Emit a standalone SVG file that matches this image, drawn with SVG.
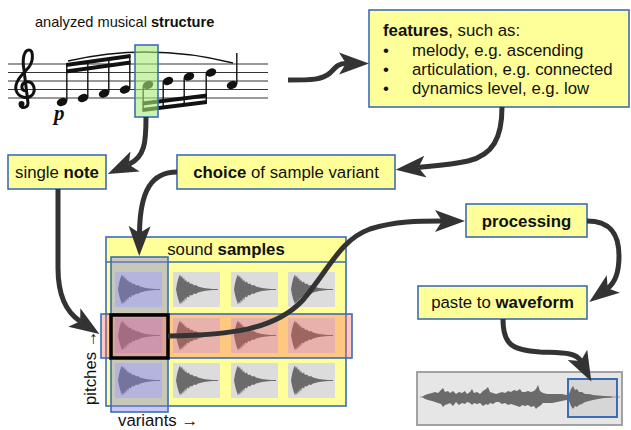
<svg xmlns="http://www.w3.org/2000/svg" width="631" height="430" viewBox="0 0 631 430">
<style>
text{font-family:"Liberation Sans",Arial,sans-serif;font-size:16.8px;fill:#111}
.b{font-weight:bold}
.box{fill:#ffff99;stroke:#3d6db3;stroke-width:1.6}
.cell{fill:#dcdcdc}
.wf{fill:#6b6b6b}
.staff{stroke:#333;stroke-width:1}
.stem{stroke:#111;stroke-width:1.4}
.head{fill:#111}
.beam{fill:#111}
.con{fill:none;stroke:#333;stroke-width:5;marker-end:url(#ah)}
</style>
<defs>
<marker id="ah" markerUnits="userSpaceOnUse" markerWidth="32" markerHeight="24" viewBox="0 0 32 24" refX="7" refY="12" orient="auto">
<path d="M0,1 L30,12 L0,23 L7,12 z" fill="#333"/>
</marker>
<path id="smp" class="wf" d="M3,0 L4,-6 L5,-10 L6,-13 L7,-15 L8,-12 L9,-14 L10,-10 L11,-12 L12,-8 L13,-10 L14,-7 L16,-8 L17,-5.5 L19,-6 L21,-4 L23,-4.5 L25,-3 L28,-2.2 L31,-1.5 L35,-1 L40,-0.6 L45,-0.5 L45,0.5 L40,0.6 L35,1 L31,1.5 L28,2.2 L25,3 L23,4.5 L21,4 L19,6 L17,5.5 L16,8 L14,7 L13,11 L12,8 L11,13 L10,10 L9,14.5 L8,12 L7,15 L6,12 L5,9 L4,5 Z"/>
</defs>

<g id="score">
<text x="35" y="27" style="font-size:14.6px">analyzed musical <tspan class="b">structure</tspan></text>
<g class="staff">
<line x1="8" y1="64" x2="268" y2="64"/>
<line x1="8" y1="72.5" x2="268" y2="72.5"/>
<line x1="8" y1="81" x2="268" y2="81"/>
<line x1="8" y1="89.5" x2="268" y2="89.5"/>
<line x1="8" y1="98" x2="268" y2="98"/>
</g>
<path d="M26,91 C21,91 20,84 26,82 C33,80 36,89 33,94 C29,100 18,98 16,90 C14,81 24,73 29,67 C34,60 33,50 29,50 C24,50 22,59 24,70 L28,103 C28,108 22,109 20,105" fill="none" stroke="#111" stroke-width="3"/>
<circle cx="21.5" cy="104" r="3" fill="#111"/>
<path d="M68,61 Q150,42 233,63" fill="none" stroke="#111" stroke-width="1.4"/>
<g class="head">
<ellipse cx="62" cy="102" rx="5.4" ry="3.9" transform="rotate(-22 62 102)"/>
<ellipse cx="83" cy="98" rx="5.4" ry="3.9" transform="rotate(-22 83 98)"/>
<ellipse cx="104" cy="93.5" rx="5.4" ry="3.9" transform="rotate(-22 104 93.5)"/>
<ellipse cx="125" cy="89.5" rx="5.4" ry="3.9" transform="rotate(-22 125 89.5)"/>
<ellipse cx="148" cy="85" rx="5.4" ry="3.9" transform="rotate(-22 148 85)"/>
<ellipse cx="168" cy="81" rx="5.4" ry="3.9" transform="rotate(-22 168 81)"/>
<ellipse cx="189" cy="76.5" rx="5.4" ry="3.9" transform="rotate(-22 189 76.5)"/>
<ellipse cx="211" cy="72.5" rx="5.4" ry="3.9" transform="rotate(-22 211 72.5)"/>
<ellipse cx="232" cy="85" rx="5.4" ry="3.9" transform="rotate(-22 232 85)"/>
</g>
<g class="stem">
<line x1="66.8" y1="101" x2="66.8" y2="64"/>
<line x1="87.8" y1="97" x2="87.8" y2="61"/>
<line x1="108.8" y1="92.5" x2="108.8" y2="58"/>
<line x1="129.8" y1="88.5" x2="129.8" y2="55"/>
<line x1="143.2" y1="86" x2="143.2" y2="111"/>
<line x1="163.2" y1="82" x2="163.2" y2="108.5"/>
<line x1="184.2" y1="77.5" x2="184.2" y2="106"/>
<line x1="206.2" y1="73.5" x2="206.2" y2="103"/>
<line x1="236.8" y1="84" x2="236.8" y2="53"/>
</g>
<g class="beam">
<polygon points="66,63 130.5,54 130.5,58 66,67"/>
<polygon points="66,69.5 130.5,60.5 130.5,64.5 66,73.5"/>
<polygon points="142.5,112 207,104 207,100 142.5,108"/>
<polygon points="142.5,105.5 207,97.5 207,93.5 142.5,101.5"/>
</g>
<text x="54" y="120" style="font-family:'Liberation Serif','Times New Roman',serif;font-weight:bold;font-style:italic;font-size:21px">p</text>
<rect x="135" y="45" width="23" height="72" fill="rgb(170,235,120)" fill-opacity="0.6" stroke="#3d6db3" stroke-width="1.6"/>
</g>

<g id="features">
<rect class="box" x="369" y="10" width="260" height="97"/>
<text x="383" y="36"><tspan class="b">features</tspan>, such as:</text>
<text x="383" y="56">•</text><text x="412" y="56">melody, e.g. ascending</text>
<text x="383" y="75">•</text><text x="412" y="75">articulation, e.g. connected</text>
<text x="383" y="94">•</text><text x="412" y="94">dynamics level, e.g. low</text>
</g>

<g id="single-note">
<rect class="box" x="8" y="155" width="98" height="34"/>
<text x="57" y="178" text-anchor="middle">single <tspan class="b">note</tspan></text>
</g>

<g id="choice">
<rect class="box" x="177" y="155" width="218" height="34"/>
<text x="286" y="178" text-anchor="middle"><tspan class="b">choice</tspan> of sample variant</text>
</g>

<g id="processing">
<rect class="box" x="466" y="204" width="121" height="33"/>
<text x="526.5" y="227" text-anchor="middle" class="b">processing</text>
</g>

<g id="paste">
<rect class="box" x="418" y="286" width="169" height="33"/>
<text x="502.5" y="308" text-anchor="middle">paste to <tspan class="b">waveform</tspan></text>
</g>

<g id="sound-samples">
<rect class="box" x="106" y="237" width="240" height="169"/>
<line x1="106" y1="262" x2="346" y2="262" stroke="#3d6db3" stroke-width="1.6"/>
<text x="226" y="255" text-anchor="middle">sound <tspan class="b">samples</tspan></text>
<g>
<rect class="cell" x="115" y="272" width="47" height="35"/><rect class="cell" x="173" y="272" width="47" height="35"/><rect class="cell" x="231" y="272" width="47" height="35"/><rect class="cell" x="288" y="272" width="47" height="35"/>
<rect class="cell" x="115" y="318" width="47" height="35"/><rect class="cell" x="173" y="318" width="47" height="35"/><rect class="cell" x="231" y="318" width="47" height="35"/><rect class="cell" x="288" y="318" width="47" height="35"/>
<rect class="cell" x="115" y="363" width="47" height="35"/><rect class="cell" x="173" y="363" width="47" height="35"/><rect class="cell" x="231" y="363" width="47" height="35"/><rect class="cell" x="288" y="363" width="47" height="35"/>
<use href="#smp" x="115" y="289.5"/><use href="#smp" x="173" y="289.5"/><use href="#smp" x="231" y="289.5"/><use href="#smp" x="288" y="289.5"/>
<use href="#smp" x="115" y="335.5"/><use href="#smp" x="173" y="335.5"/><use href="#smp" x="231" y="335.5"/><use href="#smp" x="288" y="335.5"/>
<use href="#smp" x="115" y="380.5"/><use href="#smp" x="173" y="380.5"/><use href="#smp" x="231" y="380.5"/><use href="#smp" x="288" y="380.5"/>
</g>
<rect x="111" y="257" width="57" height="155" fill="rgb(128,128,225)" fill-opacity="0.43" stroke="#3d6db3" stroke-width="1.6"/>
<rect x="101" y="314" width="251" height="44" fill="rgb(255,94,80)" fill-opacity="0.34" stroke="#3d6db3" stroke-width="1.6"/>
<rect x="111" y="315" width="57" height="43" fill="none" stroke="#000" stroke-width="3.5"/>
<text transform="translate(96 405) rotate(-90)" x="0" y="0">pitches →</text>
<text x="118" y="426">variants →</text>
</g>

<g id="waveform">
<rect x="417" y="372" width="205" height="53" fill="#e6e6e6" stroke="#9a9a9a" stroke-width="1.8"/>
<rect x="568" y="379" width="49" height="38" fill="#d6d6d6"/>
<line x1="420" y1="397" x2="620" y2="397" stroke="#999" stroke-width="1"/>
<path class="wf" d="M422,397 L425,395 L428,394 L432,393 L435,392 L438,393 L441,390 L443,388 L445,392 L448,391 L450,393 L453,391 L456,394 L459,392 L462,393 L465,391 L467,394 L470,392 L472,389 L474,393 L477,392 L480,394 L483,391 L486,389 L488,387 L490,392 L493,393 L496,394 L499,393 L502,392 L505,393 L508,391 L511,392 L514,390 L517,391 L520,389 L522,392 L525,392 L528,391 L531,392 L534,391 L536,389 L538,385 L540,391 L543,393 L547,394 L552,394 L557,394 L562,394 L566,395 L569,394 L571,389 L573,386 L575,390 L577,389 L579,392 L582,392 L585,394 L589,394 L593,395 L598,395.5 L604,396 L612,396.5 L612,397.5 L604,398 L598,399 L593,400 L589,401 L585,402 L582,404 L579,405 L577,407 L575,406 L573,409 L571,406 L569,401 L566,400 L562,401 L557,402 L552,403 L547,403 L543,403 L540,406 L538,407 L536,409 L534,406 L531,407 L528,405 L525,406 L522,405 L520,407 L517,406 L514,405 L511,404 L508,405 L505,403 L502,404 L499,402 L496,402 L493,404 L490,403 L488,405 L486,404 L483,406 L480,403 L477,404 L474,403 L472,405 L470,403 L467,402 L465,404 L462,403 L459,405 L456,402 L453,406 L450,403 L448,404 L445,405 L443,407 L441,404 L438,403 L435,402 L432,401 L428,400 L425,399 Z"/>
<rect x="568" y="379" width="49" height="38" fill="none" stroke="#3d6db3" stroke-width="2"/>
</g>

<g id="connectors">
<path class="con" d="M288,80 C312,80 322,80 330,73 C336,67 338,63.6 346,63.6"/>
<path class="con" d="M146,117 C146,142 145,157 128.7,164.5"/>
<path class="con" d="M502,107 C502,138 493,155 468,161 C450,165 432,166 418.5,167.4"/>
<path class="con" d="M177,172 C152,172 140,190 139.5,233"/>
<path class="con" d="M58,189 L58,268 C58,295 66,312 80.2,321.3"/>
<path class="con" d="M168,336 C230,335 275,330 303,300 C330,268 340,240 370,229 C395,221 420,221 442,221"/>
<path class="con" d="M587,221 C612,221 619,236 619,256 C619,272 616,282 607.7,288.2"/>
<path class="con" d="M503,319 C503,345 512,350 540,352 C562,353 576,352 580.7,361"/>
</g>
</svg>
